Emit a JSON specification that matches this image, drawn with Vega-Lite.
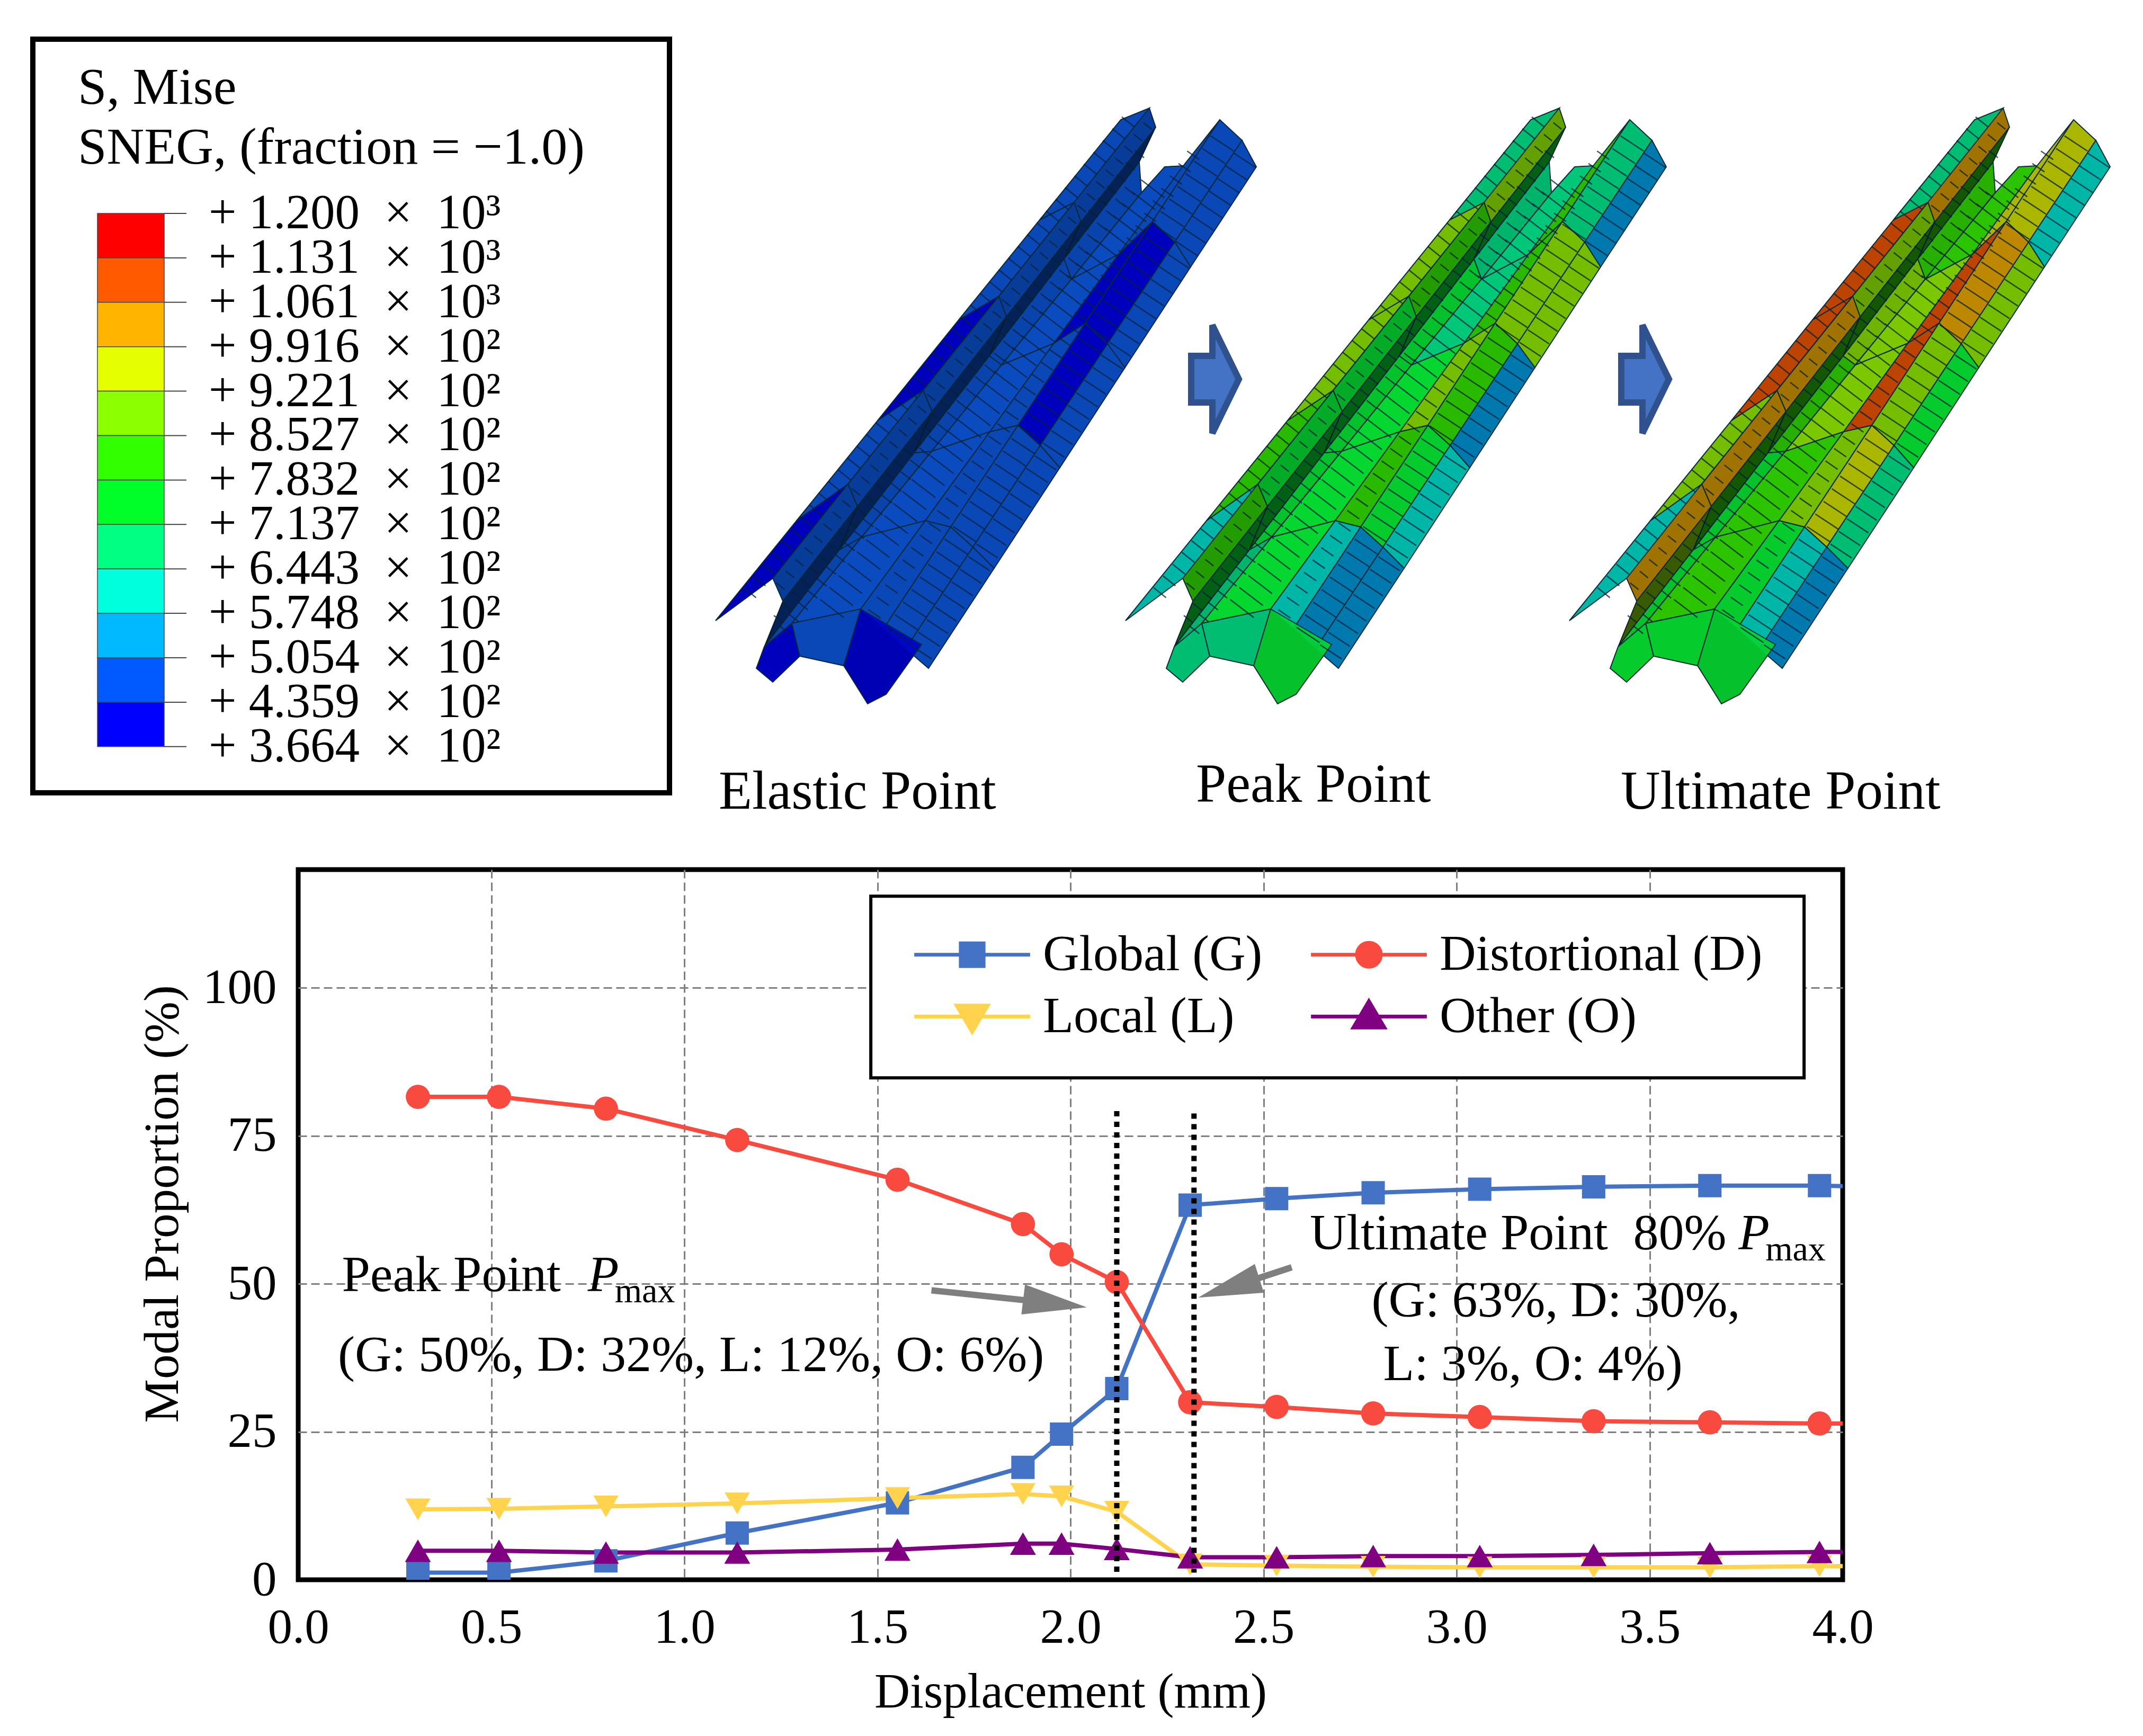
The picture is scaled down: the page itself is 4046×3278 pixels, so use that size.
{"$schema":"https://vega.github.io/schema/vega-lite/v6.json","background":"white","padding":{"left":57,"top":0,"right":0,"bottom":0},"spacing":37,"config":{"font":"Liberation Serif","view":{"stroke":null},"text":{"font":"Liberation Serif"}},
"datasets":{
"mesh":[
{"type":"Feature","properties":{"E":430,"P":620,"U":620,"k":0.95},"geometry":{"type":"Polygon","coordinates":[[[1351,1172],[1504,983],[1601,914],[1459,1092],[1351,1172]]]}},
{"type":"Feature","properties":{"E":460,"P":800,"U":860,"k":0.95},"geometry":{"type":"Polygon","coordinates":[[[1504,983],[1657,794],[1743,737],[1601,914],[1504,983]]]}},
{"type":"Feature","properties":{"E":430,"P":900,"U":1100,"k":0.95},"geometry":{"type":"Polygon","coordinates":[[[1657,794],[1810,604],[1886,559],[1743,737],[1657,794]]]}},
{"type":"Feature","properties":{"E":470,"P":870,"U":1080,"k":0.95},"geometry":{"type":"Polygon","coordinates":[[[1810,604],[1963,415],[2028,382],[1886,559],[1810,604]]]}},
{"type":"Feature","properties":{"E":460,"P":650,"U":700,"k":0.95},"geometry":{"type":"Polygon","coordinates":[[[1963,415],[2116,226],[2170,204],[2028,382],[1963,415]]]}},
{"type":"Feature","properties":{"E":470,"P":830,"U":1000,"k":0.8},"geometry":{"type":"Polygon","coordinates":[[[1459,1092],[1601,914],[1619,956],[1478,1135],[1459,1092]]]}},
{"type":"Feature","properties":{"E":470,"P":760,"U":1030,"k":0.8},"geometry":{"type":"Polygon","coordinates":[[[1601,914],[1743,737],[1760,777],[1619,956],[1601,914]]]}},
{"type":"Feature","properties":{"E":470,"P":780,"U":1040,"k":0.8},"geometry":{"type":"Polygon","coordinates":[[[1743,737],[1886,559],[1900,598],[1760,777],[1743,737]]]}},
{"type":"Feature","properties":{"E":470,"P":790,"U":870,"k":0.8},"geometry":{"type":"Polygon","coordinates":[[[1886,559],[2028,382],[2041,419],[1900,598],[1886,559]]]}},
{"type":"Feature","properties":{"E":470,"P":880,"U":1000,"k":0.8},"geometry":{"type":"Polygon","coordinates":[[[2028,382],[2170,204],[2182,240],[2041,419],[2028,382]]]}},
{"type":"Feature","properties":{"E":470,"P":780,"U":880,"k":0.45},"geometry":{"type":"Polygon","coordinates":[[[1478,1135],[1619,956],[1585,1038],[1443,1221],[1478,1135]]]}},
{"type":"Feature","properties":{"E":470,"P":780,"U":820,"k":0.45},"geometry":{"type":"Polygon","coordinates":[[[1619,956],[1760,777],[1726,855],[1585,1038],[1619,956]]]}},
{"type":"Feature","properties":{"E":470,"P":780,"U":830,"k":0.45},"geometry":{"type":"Polygon","coordinates":[[[1760,777],[1900,598],[1868,672],[1726,855],[1760,777]]]}},
{"type":"Feature","properties":{"E":470,"P":780,"U":830,"k":0.45},"geometry":{"type":"Polygon","coordinates":[[[1900,598],[2041,419],[2009,489],[1868,672],[1900,598]]]}},
{"type":"Feature","properties":{"E":470,"P":780,"U":800,"k":0.45},"geometry":{"type":"Polygon","coordinates":[[[2041,419],[2182,240],[2151,306],[2009,489],[2041,419]]]}},
{"type":"Feature","properties":{"E":490,"P":700,"U":760,"k":0.9},"geometry":{"type":"Polygon","coordinates":[[[1443,1221],[1585,1038],[1627,1014],[1495,1177],[1443,1221]]]}},
{"type":"Feature","properties":{"E":490,"P":770,"U":780,"k":0.9},"geometry":{"type":"Polygon","coordinates":[[[1585,1038],[1726,855],[1759,852],[1627,1014],[1585,1038]]]}},
{"type":"Feature","properties":{"E":490,"P":730,"U":830,"k":0.9},"geometry":{"type":"Polygon","coordinates":[[[1726,855],[1868,672],[1891,689],[1759,852],[1726,855]]]}},
{"type":"Feature","properties":{"E":470,"P":720,"U":870,"k":0.9},"geometry":{"type":"Polygon","coordinates":[[[1868,672],[2009,489],[2023,527],[1891,689],[1868,672]]]}},
{"type":"Feature","properties":{"E":470,"P":700,"U":790,"k":0.9},"geometry":{"type":"Polygon","coordinates":[[[2009,489],[2151,306],[2155,364],[2023,527],[2009,489]]]}},
{"type":"Feature","properties":{"E":490,"P":730,"U":790,"k":1},"geometry":{"type":"Polygon","coordinates":[[[1495,1177],[1627,1014],[1747,983],[1625,1150],[1495,1177]]]}},
{"type":"Feature","properties":{"E":500,"P":770,"U":850,"k":1},"geometry":{"type":"Polygon","coordinates":[[[1627,1014],[1759,852],[1869,815],[1747,983],[1627,1014]]]}},
{"type":"Feature","properties":{"E":490,"P":760,"U":880,"k":1},"geometry":{"type":"Polygon","coordinates":[[[1759,852],[1891,689],[1990,648],[1869,815],[1759,852]]]}},
{"type":"Feature","properties":{"E":480,"P":710,"U":860,"k":1},"geometry":{"type":"Polygon","coordinates":[[[1891,689],[2023,527],[2112,480],[1990,648],[1891,689]]]}},
{"type":"Feature","properties":{"E":480,"P":690,"U":800,"k":1},"geometry":{"type":"Polygon","coordinates":[[[2023,527],[2155,364],[2199,315],[2234,313],[2112,480],[2023,527]]]}},
{"type":"Feature","properties":{"E":440,"P":640,"U":720,"k":0.95},"geometry":{"type":"Polygon","coordinates":[[[1625,1150],[1747,983],[1795,995],[1668,1187],[1625,1150]]]}},
{"type":"Feature","properties":{"E":480,"P":790,"U":880,"k":0.95},"geometry":{"type":"Polygon","coordinates":[[[1747,983],[1869,815],[1922,803],[1795,995],[1747,983]]]}},
{"type":"Feature","properties":{"E":480,"P":880,"U":1090,"k":0.95},"geometry":{"type":"Polygon","coordinates":[[[1869,815],[1990,648],[2049,610],[1922,803],[1869,815]]]}},
{"type":"Feature","properties":{"E":400,"P":830,"U":1090,"k":0.95},"geometry":{"type":"Polygon","coordinates":[[[1990,648],[2112,480],[2176,418],[2049,610],[1990,648]]]}},
{"type":"Feature","properties":{"E":470,"P":800,"U":950,"k":0.95},"geometry":{"type":"Polygon","coordinates":[[[2112,480],[2234,313],[2303,226],[2176,418],[2112,480]]]}},
{"type":"Feature","properties":{"E":470,"P":540,"U":600,"k":0.95},"geometry":{"type":"Polygon","coordinates":[[[1668,1187],[1795,995],[1837,1033],[1710,1225],[1668,1187]]]}},
{"type":"Feature","properties":{"E":470,"P":770,"U":960,"k":0.95},"geometry":{"type":"Polygon","coordinates":[[[1795,995],[1922,803],[1964,841],[1837,1033],[1795,995]]]}},
{"type":"Feature","properties":{"E":400,"P":840,"U":900,"k":0.95},"geometry":{"type":"Polygon","coordinates":[[[1922,803],[2049,610],[2091,649],[1964,841],[1922,803]]]}},
{"type":"Feature","properties":{"E":400,"P":860,"U":1060,"k":0.95},"geometry":{"type":"Polygon","coordinates":[[[2049,610],[2176,418],[2218,457],[2091,649],[2049,610]]]}},
{"type":"Feature","properties":{"E":470,"P":680,"U":950,"k":0.95},"geometry":{"type":"Polygon","coordinates":[[[2176,418],[2303,226],[2345,265],[2218,457],[2176,418]]]}},
{"type":"Feature","properties":{"E":470,"P":530,"U":560,"k":0.95},"geometry":{"type":"Polygon","coordinates":[[[1710,1225],[1837,1033],[1877,1073],[1753,1262],[1710,1225]]]}},
{"type":"Feature","properties":{"E":470,"P":600,"U":700,"k":0.95},"geometry":{"type":"Polygon","coordinates":[[[1837,1033],[1964,841],[2001,883],[1877,1073],[1837,1033]]]}},
{"type":"Feature","properties":{"E":460,"P":540,"U":760,"k":0.95},"geometry":{"type":"Polygon","coordinates":[[[1964,841],[2091,649],[2124,694],[2001,883],[1964,841]]]}},
{"type":"Feature","properties":{"E":470,"P":900,"U":860,"k":0.95},"geometry":{"type":"Polygon","coordinates":[[[2091,649],[2218,457],[2248,504],[2124,694],[2091,649]]]}},
{"type":"Feature","properties":{"E":460,"P":540,"U":640,"k":0.95},"geometry":{"type":"Polygon","coordinates":[[[2218,457],[2345,265],[2372,315],[2248,504],[2218,457]]]}},
{"type":"Feature","properties":{"E":430,"P":700,"U":750,"k":0.95},"geometry":{"type":"Polygon","coordinates":[[[1443,1221],[1428,1262],[1459,1288],[1510,1239],[1495,1177],[1443,1221]]]}},
{"type":"Feature","properties":{"E":470,"P":700,"U":780,"k":0.95},"geometry":{"type":"Polygon","coordinates":[[[1495,1177],[1625,1150],[1593,1257],[1510,1239],[1495,1177]]]}},
{"type":"Feature","properties":{"E":400,"P":770,"U":760,"k":0.9},"geometry":{"type":"Polygon","coordinates":[[[1593,1257],[1625,1150],[1740,1217],[1673,1311],[1638,1329],[1593,1257]]]}}
],
"meshlines":[
{"type":"Feature","properties":{"w":30},"geometry":{"type":"LineString","coordinates":[[1415,1120],[2133,226]]}},
{"type":"Feature","properties":{"w":20},"geometry":{"type":"LineString","coordinates":[[1473,1108],[2171,232]]}},
{"type":"Feature","properties":{"w":22},"geometry":{"type":"LineString","coordinates":[[1469,1170],[2156,285]]}},
{"type":"Feature","properties":{"w":24},"geometry":{"type":"LineString","coordinates":[[1480,1190],[2145,345]]}},
{"type":"Feature","properties":{"w":56},"geometry":{"type":"LineString","coordinates":[[1570,1150],[2185,345]]}},
{"type":"Feature","properties":{"w":28},"geometry":{"type":"LineString","coordinates":[[1650,1160],[2262,280]]}},
{"type":"Feature","properties":{"w":52},"geometry":{"type":"LineString","coordinates":[[1695,1200],[2318,255]]}},
{"type":"Feature","properties":{"w":48},"geometry":{"type":"LineString","coordinates":[[1738,1232],[2352,300]]}}
],
"arrows":[
{"type":"Feature","properties":{},"geometry":{"type":"Polygon","coordinates":[[[2249,672],[2289,672],[2289,614],[2339,716],[2289,818],[2289,760],[2249,760],[2249,672]]]}},
{"type":"Feature","properties":{},"geometry":{"type":"Polygon","coordinates":[[[3061,672],[3101,672],[3101,614],[3151,716],[3101,818],[3101,760],[3061,760],[3061,672]]]}}
],
"bands":[
{"top":0,"bot":1,"mid":1165},{"top":1,"bot":2,"mid":1096},{"top":2,"bot":3,"mid":1026},{"top":3,"bot":4,"mid":957},{"top":4,"bot":5,"mid":887},{"top":5,"bot":6,"mid":818},{"top":6,"bot":7,"mid":748},{"top":7,"bot":8,"mid":679},{"top":8,"bot":9,"mid":610},{"top":9,"bot":10,"mid":540},{"top":10,"bot":11,"mid":470},{"top":11,"bot":12,"mid":401}
],
"ticks":[
{"lvl":0,"label":"+ 1.200 \u00a0× \u00a010³"},{"lvl":1,"label":"+ 1.131 \u00a0× \u00a010³"},{"lvl":2,"label":"+ 1.061 \u00a0× \u00a010³"},{"lvl":3,"label":"+ 9.916 \u00a0× \u00a010²"},{"lvl":4,"label":"+ 9.221 \u00a0× \u00a010²"},{"lvl":5,"label":"+ 8.527 \u00a0× \u00a010²"},{"lvl":6,"label":"+ 7.832 \u00a0× \u00a010²"},{"lvl":7,"label":"+ 7.137 \u00a0× \u00a010²"},{"lvl":8,"label":"+ 6.443 \u00a0× \u00a010²"},{"lvl":9,"label":"+ 5.748 \u00a0× \u00a010²"},{"lvl":10,"label":"+ 5.054 \u00a0× \u00a010²"},{"lvl":11,"label":"+ 4.359 \u00a0× \u00a010²"},{"lvl":12,"label":"+ 3.664 \u00a0× \u00a010²"}
],
"legendcaptions":[
{"fx":147,"fy":196,"t":"S, Mise"},{"fx":147,"fy":309,"t":"SNEG, (fraction = −1.0)"}
],
"captions":[
{"fx":1357,"fy":1527,"t":"Elastic Point"},{"fx":2258,"fy":1514,"t":"Peak Point"},{"fx":3060,"fy":1527,"t":"Ultimate Point"}
],
"series":[
{"s":"Global (G)","d":0.31,"p":1.2},{"s":"Global (G)","d":0.52,"p":1.2},{"s":"Global (G)","d":0.797,"p":3.2},{"s":"Global (G)","d":1.137,"p":7.9},{"s":"Global (G)","d":1.552,"p":13},{"s":"Global (G)","d":1.877,"p":19},{"s":"Global (G)","d":1.977,"p":24.6},{"s":"Global (G)","d":2.12,"p":32.3},{"s":"Global (G)","d":2.31,"p":63.3},{"s":"Global (G)","d":2.534,"p":64.4},{"s":"Global (G)","d":2.784,"p":65.4},{"s":"Global (G)","d":3.06,"p":66},{"s":"Global (G)","d":3.355,"p":66.4},{"s":"Global (G)","d":3.656,"p":66.6},{"s":"Global (G)","d":3.94,"p":66.6},{"s":"Global (G)","d":4.0,"p":66.5},
{"s":"Distortional (D)","d":0.31,"p":81.6},{"s":"Distortional (D)","d":0.52,"p":81.6},{"s":"Distortional (D)","d":0.797,"p":79.6},{"s":"Distortional (D)","d":1.137,"p":74.3},{"s":"Distortional (D)","d":1.552,"p":67.6},{"s":"Distortional (D)","d":1.877,"p":60.1},{"s":"Distortional (D)","d":1.977,"p":55},{"s":"Distortional (D)","d":2.12,"p":50.3},{"s":"Distortional (D)","d":2.31,"p":30},{"s":"Distortional (D)","d":2.534,"p":29.2},{"s":"Distortional (D)","d":2.784,"p":28.1},{"s":"Distortional (D)","d":3.06,"p":27.5},{"s":"Distortional (D)","d":3.355,"p":26.8},{"s":"Distortional (D)","d":3.656,"p":26.6},{"s":"Distortional (D)","d":3.94,"p":26.4},{"s":"Distortional (D)","d":4.0,"p":26.4},
{"s":"Local (L)","d":0.31,"p":11.9},{"s":"Local (L)","d":0.52,"p":12},{"s":"Local (L)","d":0.797,"p":12.4},{"s":"Local (L)","d":1.137,"p":12.9},{"s":"Local (L)","d":1.552,"p":13.8},{"s":"Local (L)","d":1.877,"p":14.5},{"s":"Local (L)","d":1.977,"p":14.1},{"s":"Local (L)","d":2.12,"p":11.5},{"s":"Local (L)","d":2.31,"p":2.6},{"s":"Local (L)","d":2.534,"p":2.4},{"s":"Local (L)","d":2.784,"p":2.2},{"s":"Local (L)","d":3.06,"p":2.1},{"s":"Local (L)","d":3.355,"p":2.1},{"s":"Local (L)","d":3.656,"p":2.1},{"s":"Local (L)","d":3.94,"p":2.3},{"s":"Local (L)","d":4.0,"p":2.3},
{"s":"Other (O)","d":0.31,"p":4.9},{"s":"Other (O)","d":0.52,"p":4.9},{"s":"Other (O)","d":0.797,"p":4.6},{"s":"Other (O)","d":1.137,"p":4.6},{"s":"Other (O)","d":1.552,"p":5.1},{"s":"Other (O)","d":1.877,"p":6.1},{"s":"Other (O)","d":1.977,"p":6.1},{"s":"Other (O)","d":2.12,"p":5.2},{"s":"Other (O)","d":2.31,"p":3.8},{"s":"Other (O)","d":2.534,"p":3.8},{"s":"Other (O)","d":2.784,"p":4},{"s":"Other (O)","d":3.06,"p":4},{"s":"Other (O)","d":3.355,"p":4.2},{"s":"Other (O)","d":3.656,"p":4.5},{"s":"Other (O)","d":3.94,"p":4.7},{"s":"Other (O)","d":4.0,"p":4.7}
]
},
"vconcat":[
{"hconcat":[
{"width":774,"height":1600,
"layer":[
{"data":{"values":[{"l":1}]},"mark":{"type":"rect","fill":"white","stroke":"black","strokeWidth":10,"x":-501,"x2":701,"y":74,"y2":1497},"encoding":{}},
{"data":{"name":"bands"},"mark":{"type":"rect","stroke":"#444","strokeWidth":1.5},"encoding":{"x":{"value":-379},"x2":{"value":-253},"y":{"field":"top","type":"quantitative","scale":{"domain":[14.267,-4.803],"nice":false,"zero":false},"axis":null},"y2":{"field":"bot"},"fill":{"field":"mid","type":"quantitative","legend":null,"scale":{"type":"threshold","domain":[435.9,505.4,574.8,644.3,713.7,783.2,852.7,922.1,991.6,1061,1131],"range":["#0000ff","#005aff","#00b9ff","#00ffdc","#00ff82","#00ff28","#32ff00","#8cff00","#e6ff00","#ffb400","#ff5a00","#ff0000"]}}}},
{"data":{"name":"ticks"},"mark":{"type":"rule","stroke":"#444","strokeWidth":2},"encoding":{"x":{"value":-253},"x2":{"value":-211},"y":{"field":"lvl","type":"quantitative","scale":{"domain":[14.267,-4.803],"nice":false,"zero":false},"axis":null}}},
{"data":{"name":"ticks"},"mark":{"type":"text","align":"left","baseline":"middle","fontSize":93,"color":"black"},"encoding":{"x":{"value":-169},"y":{"field":"lvl","type":"quantitative","scale":{"domain":[14.267,-4.803],"nice":false,"zero":false},"axis":null},"text":{"field":"label"}}},
{"data":{"name":"legendcaptions"},"mark":{"type":"text","align":"left","baseline":"alphabetic","fontSize":98,"color":"black"},"encoding":{"x":{"field":"fx","type":"quantitative","scale":{"domain":[563,1337],"nice":false,"zero":false},"axis":null},"y":{"field":"fy","type":"quantitative","scale":{"domain":[1600,0],"nice":false,"zero":false},"axis":null},"text":{"field":"t"}}},
{"data":{"name":"captions"},"mark":{"type":"text","align":"left","baseline":"alphabetic","fontSize":103,"color":"black"},"encoding":{"x":{"field":"fx","type":"quantitative","scale":{"domain":[563,1337],"nice":false,"zero":false},"axis":null},"y":{"field":"fy","type":"quantitative","scale":{"domain":[1600,0],"nice":false,"zero":false},"axis":null},"text":{"field":"t"}}},
{"data":{"name":"arrows"},"mark":{"type":"geoshape","clip":false,"fill":"#4472c4","stroke":"#2f528f","strokeWidth":12},"projection":{"type":"identity","scale":1,"translate":[-563,0]},"encoding":{}},
{"data":{"name":"mesh"},"mark":{"type":"geoshape","clip":false,"fill":"#000","stroke":"#000"},"projection":{"type":"identity","scale":1,"translate":[-563,0]},"encoding":{}},
{"data":{"name":"mesh"},"mark":{"type":"geoshape","clip":false,"stroke":"#0a2a3a","strokeWidth":2},"projection":{"type":"identity","scale":1,"translate":[-563,0]},"encoding":{"color":{"field":"properties.E","type":"quantitative","legend":null,"scale":{"type":"threshold","domain":[435.9,505.4,574.8,644.3,713.7,783.2,852.7,922.1,991.6,1061,1131],"range":["#0000c8","#0a4cc0","#0080b8","#00c0b0","#00c878","#06d630","#2cc400","#7cc800","#b4c000","#c89000","#c84800","#d00000"]}},"opacity":{"field":"properties.k","type":"quantitative","scale":null}}},
{"data":{"name":"meshlines"},"mark":{"type":"geoshape","clip":false,"fill":null,"filled":false,"stroke":"#06203a","strokeDash":[2.5,26],"opacity":0.75},"projection":{"type":"identity","scale":1,"translate":[-563,0]},"encoding":{"strokeWidth":{"field":"properties.w","type":"quantitative","scale":null}}}
],
"resolve":{"scale":{"x":"independent","y":"independent"}}
},
{"width":838,"height":1600,"projection":{"type":"identity","scale":1,"translate":[-563,6]},
"layer":[
{"data":{"name":"mesh"},"mark":{"type":"geoshape","clip":false,"fill":"#000","stroke":"#000"},"encoding":{}},
{"data":{"name":"mesh"},"mark":{"type":"geoshape","clip":false,"stroke":"#0a2a3a","strokeWidth":2},"encoding":{"color":{"field":"properties.P","type":"quantitative","legend":null,"scale":{"type":"threshold","domain":[435.9,505.4,574.8,644.3,713.7,783.2,852.7,922.1,991.6,1061,1131],"range":["#0000c8","#0a4cc0","#0080b8","#00c0b0","#00c878","#06d630","#2cc400","#7cc800","#b4c000","#c89000","#c84800","#d00000"]}},"opacity":{"field":"properties.k","type":"quantitative","scale":null}}},
{"data":{"name":"meshlines"},"mark":{"type":"geoshape","clip":false,"fill":null,"filled":false,"stroke":"#06203a","strokeDash":[2.5,26],"opacity":0.75},"encoding":{"strokeWidth":{"field":"properties.w","type":"quantitative","scale":null}}}
]
},
{"width":871,"height":1600,"projection":{"type":"identity","scale":1,"translate":[-563,12]},
"layer":[
{"data":{"name":"mesh"},"mark":{"type":"geoshape","clip":false,"fill":"#000","stroke":"#000"},"encoding":{}},
{"data":{"name":"mesh"},"mark":{"type":"geoshape","clip":false,"stroke":"#0a2a3a","strokeWidth":2},"encoding":{"color":{"field":"properties.U","type":"quantitative","legend":null,"scale":{"type":"threshold","domain":[435.9,505.4,574.8,644.3,713.7,783.2,852.7,922.1,991.6,1061,1131],"range":["#0000c8","#0a4cc0","#0080b8","#00c0b0","#00c878","#06d630","#2cc400","#7cc800","#b4c000","#c89000","#c84800","#d00000"]}},"opacity":{"field":"properties.k","type":"quantitative","scale":null}}},
{"data":{"name":"meshlines"},"mark":{"type":"geoshape","clip":false,"fill":null,"filled":false,"stroke":"#06203a","strokeDash":[2.5,26],"opacity":0.75},"encoding":{"strokeWidth":{"field":"properties.w","type":"quantitative","scale":null}}}
]
}
],"spacing":0,"bounds":"flush"},
{"width":2916,"height":1341,"view":{"stroke":"black","strokeWidth":9},
"layer":[
{"data":{"name":"series"},"mark":{"type":"line","strokeWidth":8,"clip":true},"encoding":{
"x":{"field":"d","type":"quantitative","title":"Displacement (mm)","scale":{"domain":[0,4],"nice":false,"zero":false},"axis":{"values":[0,0.5,1,1.5,2,2.5,3,3.5,4],"format":".1f","grid":true,"gridColor":{"condition":{"test":"datum.value==0||datum.value==4","value":"transparent"},"value":"#7f7f7f"},"gridDash":[16,8],"gridWidth":3,"domain":false,"ticks":false,"labelFontSize":93,"titleFontSize":93,"titleFontWeight":"normal","labelColor":"black","titleColor":"black","labelPadding":45,"titlePadding":30,"labelFlush":false,"labelOverlap":false}},
"y":{"field":"p","type":"quantitative","title":"Modal Proportion (%)","scale":{"domain":[0,120],"nice":false},"axis":{"values":[0,25,50,75,100],"grid":true,"gridColor":{"condition":{"test":"datum.value==0","value":"transparent"},"value":"#7f7f7f"},"gridDash":[16,8],"gridWidth":3,"domain":false,"ticks":false,"labelFontSize":93,"titleFontSize":93,"titleFontWeight":"normal","labelColor":"black","titleColor":"black","labelPadding":41,"titlePadding":27,"titleY":631,"labelFlush":false,"labelOverlap":false}},
"color":{"field":"s","type":"nominal","scale":{"domain":["Global (G)","Local (L)","Distortional (D)","Other (O)"],"range":["#4472c4","#ffd34d","#f94a3f","#7f0080"]},"legend":{"orient":"none","legendX":1224,"legendY":112,"columns":2,"title":null,"padding":0,"symbolSize":8100,"labelFontSize":95,"labelColor":"black","labelLimit":2000,"labelOffset":85,"columnPadding":77,"rowPadding":20,"symbolType":"M-1,0H1","encode":{"symbols":{"update":{"shape":{"signal":"datum.value=='Global (G)'?'M-2.43,0H2.43M-0.48,-0.48H0.48V0.48H-0.48Z':datum.value=='Distortional (D)'?'M-2.43,0H2.43M-0.5,0A0.5,0.5,0,1,1,0.5,0A0.5,0.5,0,1,1,-0.5,0Z':datum.value=='Local (L)'?'M-2.43,0H2.43M-0.65,-0.46H0.65L0,0.64Z':'M-2.43,0H2.43M-0.65,0.46H0.65L0,-0.64Z'"},"fill":{"signal":"datum.value=='Global (G)'?'#4472c4':datum.value=='Distortional (D)'?'#f94a3f':datum.value=='Local (L)'?'#ffd34d':'#7f0080'"},"stroke":{"signal":"datum.value=='Global (G)'?'#4472c4':datum.value=='Distortional (D)'?'#f94a3f':datum.value=='Local (L)'?'#ffd34d':'#7f0080'"},"strokeWidth":{"value":7},"opacity":{"value":1}}}}}}
}},
{"data":{"name":"series"},"transform":[{"filter":"datum.d<4"}],"mark":{"type":"point","filled":true,"opacity":1,"clip":true},"encoding":{
"x":{"field":"d","type":"quantitative"},"y":{"field":"p","type":"quantitative"},
"color":{"field":"s","type":"nominal","legend":null},
"shape":{"field":"s","type":"nominal","legend":null,"scale":{"domain":["Global (G)","Distortional (D)","Local (L)","Other (O)"],"range":["square","circle","triangle-down","triangle-up"]}},
"size":{"field":"s","type":"nominal","legend":null,"scale":{"domain":["Global (G)","Distortional (D)","Local (L)","Other (O)"],"range":[1940,2400,5500,5500]}}
}},
{"data":{"values":[{"d":1.483,"p":115.5,"d2":3.9,"p2":84.8}]},"mark":{"type":"rect","fill":"white","stroke":"black","strokeWidth":6},"encoding":{"x":{"field":"d","type":"quantitative"},"x2":{"field":"d2"},"y":{"field":"p","type":"quantitative"},"y2":{"field":"p2"}}},
{"data":{"values":[{"d":2.12,"p":79.2,"k":"a"},{"d":2.12,"p":1.2,"k":"a"},{"d":2.32,"p":78.8,"k":"b"},{"d":2.32,"p":1.2,"k":"b"}]},"mark":{"type":"line","color":"black","strokeWidth":10,"strokeDash":[10,10]},"encoding":{"x":{"field":"d","type":"quantitative"},"y":{"field":"p","type":"quantitative"},"detail":{"field":"k"}}},
{"data":{"values":[{"d":1.64,"p":48.9,"d2":1.96,"p2":46.7},{"d":2.573,"p":52.8,"d2":2.41,"p2":49.3}]},"mark":{"type":"rule","color":"#7f7f7f","strokeWidth":12},"encoding":{"x":{"field":"d","type":"quantitative"},"y":{"field":"p","type":"quantitative"},"x2":{"field":"d2"},"y2":{"field":"p2"}}},
{"data":{"values":[{"d":1.96,"p":46.7,"a":7},{"d":2.41,"p":49.3,"a":162.5}]},"mark":{"type":"point","filled":true,"color":"#7f7f7f","opacity":1,"shape":"M-1,-0.47L1,0L-1,0.47Z","size":14641},"encoding":{"x":{"field":"d","type":"quantitative"},"y":{"field":"p","type":"quantitative"},"angle":{"field":"a","type":"quantitative","scale":null}}},
{"data":{"values":[{"d":0.113,"p":48.8,"t":"Peak Point"},{"d":0.103,"p":35.3,"t":"(G: 50%, D: 32%, L: 12%, O: 6%)"},{"d":2.62,"p":55.8,"t":"Ultimate Point\u00a0\u00a080%"},{"d":2.78,"p":44.5,"t":"(G: 63%, D: 30%,"},{"d":2.81,"p":33.7,"t":"L: 3%, O: 4%)"}]},"mark":{"type":"text","align":"left","baseline":"alphabetic","fontSize":96,"color":"black"},"encoding":{"x":{"field":"d","type":"quantitative"},"y":{"field":"p","type":"quantitative"},"text":{"field":"t"}}},
{"data":{"values":[{"d":0.75,"p":48.8,"t":"P"},{"d":3.73,"p":55.8,"t":"P"}]},"mark":{"type":"text","align":"left","baseline":"alphabetic","fontSize":96,"fontStyle":"italic","color":"black"},"encoding":{"x":{"field":"d","type":"quantitative"},"y":{"field":"p","type":"quantitative"},"text":{"field":"t"}}},
{"data":{"values":[{"d":0.82,"p":46.9,"t":"max"},{"d":3.80,"p":54,"t":"max"}]},"mark":{"type":"text","align":"left","baseline":"alphabetic","fontSize":66,"color":"black"},"encoding":{"x":{"field":"d","type":"quantitative"},"y":{"field":"p","type":"quantitative"},"text":{"field":"t"}}}
]
}
]}
